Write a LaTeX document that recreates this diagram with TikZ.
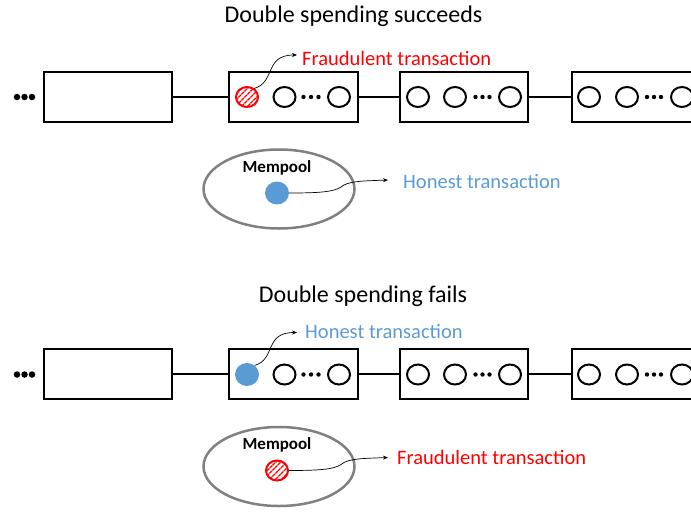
\documentclass[tikz,border=0pt]{standalone}
\usepackage{fontspec}
\setmainfont{Carlito}
\usetikzlibrary{shapes.geometric,patterns.meta,arrows.meta}
\definecolor{fraud}{RGB}{255,0,0}
\definecolor{honest}{RGB}{91,155,213}
\definecolor{poolgray}{RGB}{128,128,128}
\tikzset{
 blk/.style={draw,line width=2pt,minimum width=128pt,minimum height=50pt,inner sep=0pt},
 tx/.style={draw,ellipse,line width=2pt,minimum width=22pt,minimum height=20pt,inner sep=0pt},
 fraudtx/.style={tx,draw=fraud,pattern={Lines[angle=45,distance=4pt,line width=1.5pt]},pattern color=fraud},
 honesttx/.style={ellipse,fill=honest,minimum width=24pt,minimum height=23pt,inner sep=0pt},
 smalldot/.style={circle,fill=black,minimum size=4.4pt,inner sep=0pt},
 bigdot/.style={circle,fill=black,minimum size=6.5pt,inner sep=0pt},
 link/.style={line width=2pt},
 pool/.style={draw=poolgray,ellipse,line width=2.5pt,minimum width=151pt,minimum height=79pt,inner sep=0pt},
 title/.style={font=\fontsize{24}{28}\selectfont,anchor=base,inner sep=0pt},
 lbl/.style={font=\fontsize{20.5}{24}\selectfont,anchor=base west,inner sep=0pt},
 poolname/.style={font=\fontsize{17}{20}\bfseries\selectfont,anchor=base,inner sep=0pt},
 pointer/.style={line width=0.7pt,-{Stealth[length=5pt,width=4pt]}}
}
\newcommand\chainrow[3]{%
 \node[bigdot] (#1e1) at (17,97) {};
 \node[bigdot] (#1e2) at (24.5,97) {};
 \node[bigdot] (#1e3) at (32,97) {};
 \node[blk] (#1b1) at (108,96.5) {};
 \node[blk,minimum width=129pt] (#1b2) at (293.5,96.5) {};
 \node[blk] (#1b3) at (464,96.5) {};
 \node[blk] (#1b4) at (636,96.5) {};
 \draw[link] (#1b1.east) -- (#1b2.west);
 \draw[link] (#1b2.east) -- (#1b3.west);
 \draw[link] (#1b3.east) -- (#1b4.west);
 \node[#2] (#1t1) at (247,97) {};
 \node[tx] (#1t2) at (284.5,97) {};
 \node[smalldot] (#1p1) at (303.5,97) {};
 \node[smalldot] (#1p2) at (311,97) {};
 \node[smalldot] (#1p3) at (318.5,97) {};
 \node[tx] (#1t3) at (339,97) {};
 \node[tx] (#1u1) at (418,97) {};
 \node[tx] (#1u2) at (455,97) {};
 \node[smalldot] (#1q1) at (475.5,97) {};
 \node[smalldot] (#1q2) at (482.5,97) {};
 \node[smalldot] (#1q3) at (489.5,97) {};
 \node[tx] (#1u3) at (510,97) {};
 \node[tx] (#1v1) at (589,97) {};
 \node[tx] (#1v2) at (627,97) {};
 \node[smalldot] (#1r1) at (647,97) {};
 \node[smalldot] (#1r2) at (654,97) {};
 \node[smalldot] (#1r3) at (661,97) {};
 \node[tx] (#1v3) at (682,97) {};
 \coordinate (#1tip) at (297,55);
 \draw[pointer] (#1t1.50) .. controls (276,82) and (264,55) .. (#1tip);
 \node[pool] (#1pool) at (279,189) {};
 \node[poolname] (#1pname) at (277,172) {Mempool};
 \node[#3] (#1m) at (277,193) {};
 \coordinate (#1mtip) at (388,180);
 \draw[pointer] (#1m.east) .. controls (318,193) and (334,192) .. (341,187)
   .. controls (348,181) and (362,181) .. (#1mtip);
}
\begin{document}
\begin{tikzpicture}[x=1pt,y=-1pt]
\useasboundingbox (0,0) rectangle (691,512);
\clip (0,0) rectangle (691,512);
\node[title] (title1) at (353.5,22) {Double spending succeeds};
\chainrow{a}{fraudtx}{honesttx}
\node[lbl,text=fraud] (alab) at (302,65) {Fraudulent transaction};
\node[lbl,text=honest] (amlab) at (403,188) {Honest transaction};
\begin{scope}[shift={(0,277.5)}]
\chainrow{b}{honesttx}{fraudtx}
\end{scope}
\node[title] (title2) at (363,302) {Double spending fails};
\node[lbl,text=honest] (blab) at (305,338) {Honest transaction};
\node[lbl,text=fraud] (bmlab) at (397,464) {Fraudulent transaction};
\end{tikzpicture}
\end{document}
